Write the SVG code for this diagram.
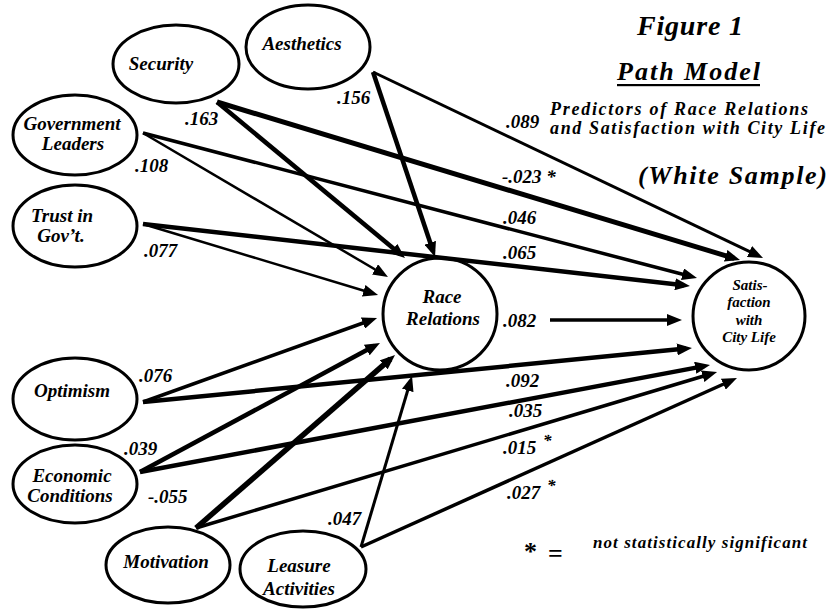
<svg xmlns="http://www.w3.org/2000/svg" width="830" height="610" viewBox="0 0 830 610">
<style>
.nd{fill:#fff;stroke:#000;stroke-width:3}
.t{font-family:"Liberation Serif","Times New Roman",serif;font-weight:bold;font-style:italic;fill:#000}
.nl{font-size:19px;text-anchor:middle}
.sl{font-size:15px;text-anchor:middle}
.el{font-size:19px}
.c{stroke:#000;fill:none;marker-end:url(#ah)}
</style>
<defs>
<marker id="ah" markerUnits="userSpaceOnUse" markerWidth="15" markerHeight="12" viewBox="0 0 15 12" refX="9" refY="6" orient="auto">
<path d="M0,0 L15,6 L0,12 z" fill="#000"/>
</marker>
</defs>
<rect width="830" height="610" fill="#fff"/>

<g id="security"><ellipse class="nd" cx="176" cy="64" rx="63" ry="39"/><text class="t nl" x="161" y="70">Security</text></g>
<g id="aesthetics"><ellipse class="nd" cx="308" cy="47" rx="62" ry="42"/><text class="t nl" x="302" y="50">Aesthetics</text></g>
<g id="government-leaders"><ellipse class="nd" cx="75" cy="135" rx="62" ry="40"/><text class="t nl" x="72" y="130">Government</text><text class="t nl" x="73" y="150">Leaders</text></g>
<g id="trust-in-govt"><ellipse class="nd" cx="75" cy="226" rx="62" ry="41"/><text class="t nl" x="62" y="222">Trust in</text><text class="t nl" x="61" y="242">Gov’t.</text></g>
<g id="race-relations"><ellipse class="nd" cx="440" cy="314" rx="57" ry="56"/><text class="t nl" x="442" y="303">Race</text><text class="t nl" x="443" y="325">Relations</text></g>
<g id="satisfaction"><ellipse class="nd" cx="749" cy="316" rx="56" ry="54"/><text class="t sl" x="750" y="290">Satis-</text><text class="t sl" x="749" y="307">faction</text><text class="t sl" x="749" y="325">with</text><text class="t sl" x="749" y="342">City Life</text></g>
<g id="optimism"><ellipse class="nd" cx="75" cy="399" rx="62" ry="41"/><text class="t nl" x="72" y="397">Optimism</text></g>
<g id="economic-conditions"><ellipse class="nd" cx="75" cy="484" rx="62" ry="39"/><text class="t nl" x="72" y="482">Economic</text><text class="t nl" x="70" y="502">Conditions</text></g>
<g id="motivation"><ellipse class="nd" cx="168" cy="565" rx="62" ry="38"/><text class="t nl" x="166" y="568">Motivation</text></g>
<g id="leasure-activities"><ellipse class="nd" cx="303" cy="569" rx="63" ry="38"/><text class="t nl" x="299" y="572">Leasure</text><text class="t nl" x="299" y="595">Activities</text></g>

<g id="connectors">
<path class="c" stroke-width="4.5" d="M217,102 L400.4,254.2"/>
<path class="c" stroke-width="5" d="M217,102 L734.3,258.3"/>
<path class="c" stroke-width="4.5" d="M373,72 L433.1,251.3"/>
<path class="c" stroke-width="3" d="M373,72 L757.6,255.4"/>
<path class="c" stroke-width="2.5" d="M143,133 L382.8,274"/>
<path class="c" stroke-width="3.5" d="M143,133 L691.2,276.5"/>
<path class="c" stroke-width="2.5" d="M143,224 L372.3,293.3"/>
<path class="c" stroke-width="4.5" d="M143,224 L684,285.3"/>
<path class="c" stroke-width="3.5" d="M550,320 L676,320"/>
<path class="c" stroke-width="3.5" d="M143,402 L371.4,320"/>
<path class="c" stroke-width="4.5" d="M143,402 L686,348.6"/>
<path class="c" stroke-width="4.5" d="M140,472 L374.7,345.8"/>
<path class="c" stroke-width="4.5" d="M140,472 L704.1,366.1"/>
<path class="c" stroke-width="5.5" d="M196,528 L390.5,358.9"/>
<path class="c" stroke-width="3.5" d="M196,528 L711.3,373.7"/>
<path class="c" stroke-width="3" d="M361,547 L410.3,381.8"/>
<path class="c" stroke-width="3.5" d="M361,547 L731.5,380.5"/>
</g>

<g id="edge-labels">
<text class="t el" x="185" y="125">.163</text>
<text class="t el" x="337" y="104">.156</text>
<text class="t el" x="135" y="172">.108</text>
<text class="t el" x="144" y="257">.077</text>
<text class="t el" x="506" y="128">.089</text>
<text class="t el" x="502" y="183">-.023 *</text>
<text class="t el" x="503" y="224">.046</text>
<text class="t el" x="503" y="259">.065</text>
<text class="t el" x="503" y="327">.082</text>
<text class="t el" x="139" y="382">.076</text>
<text class="t el" x="506" y="387">.092</text>
<text class="t el" x="509" y="417">.035</text>
<text class="t el" x="503" y="454">.015</text>
<text class="t" font-size="17" x="543" y="446">*</text>
<text class="t el" x="507" y="499">.027</text>
<text class="t" font-size="17" x="547" y="491">*</text>
<text class="t el" x="124" y="455">.039</text>
<text class="t el" x="148" y="503">-.055</text>
<text class="t el" x="328" y="525">.047</text>
</g>

<g id="title">
<text class="t" font-size="28" x="637" y="35" textLength="106" lengthAdjust="spacing">Figure 1</text>
<text class="t" font-size="26" x="617" y="80" textLength="143" lengthAdjust="spacing">Path Model</text>
<rect x="617" y="84" width="143" height="2.2" fill="#000"/>
<text class="t" font-size="18" x="550" y="115" textLength="258" lengthAdjust="spacing">Predictors of Race Relations</text>
<text class="t" font-size="18" x="550" y="134" textLength="275" lengthAdjust="spacing">and Satisfaction with City Life</text>
<text class="t" font-size="26" x="638" y="184" textLength="189" lengthAdjust="spacing">(White Sample)</text>
</g>

<g id="legend">
<text font-family="Liberation Serif,serif" font-weight="bold" font-size="26" x="524" y="560">*</text>
<text font-family="Liberation Serif,serif" font-weight="bold" font-size="26" x="548" y="562">=</text>
<text class="t" font-size="17" x="593" y="548" textLength="214" lengthAdjust="spacing">not statistically significant</text>
</g>
</svg>
